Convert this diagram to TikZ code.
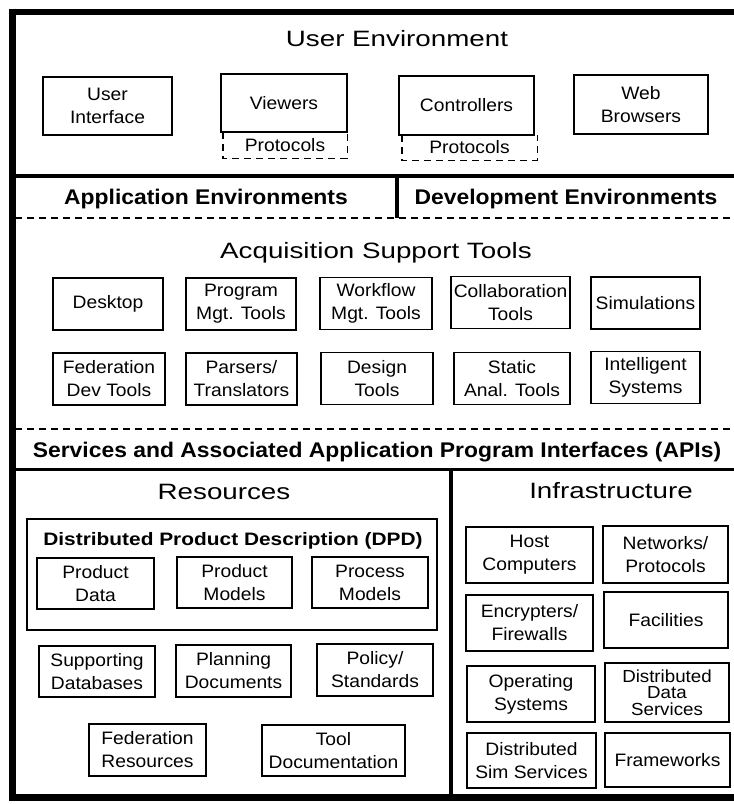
\documentclass[tikz,border=0pt]{standalone}
\usepackage{fontspec}
\setmainfont{Liberation Sans}
\newfontfamily\bxfont[FakeStretch=1.07]{Liberation Sans}
\newfontfamily\ttlfont[FakeStretch=1.25]{Liberation Sans}
\newfontfamily\bttlfont[FakeStretch=1.08]{Liberation Sans}
\newfontfamily\dpdfont[FakeStretch=1.16]{Liberation Sans}
\begin{document}
\begin{tikzpicture}[x=1pt,y=-1pt,
  box/.style={draw, line width=1.5pt, inner sep=0pt, align=center,
    font=\bxfont\fontsize{18}{23}\selectfont},
  bx/.style 2 args={box, minimum width=#1pt, minimum height=#2pt},
  ptxt/.style 2 args={inner sep=0pt, minimum width=#1pt, minimum height=#2pt,
    font=\bxfont\fontsize{18}{23}\selectfont},
  title/.style={inner sep=0pt, anchor=base, font=\ttlfont\fontsize{22.2}{27}\selectfont},
  btitle/.style={inner sep=0pt, anchor=base, font=\bttlfont\bfseries\fontsize{21.2}{25}\selectfont},
  dsh/.style={line width=1.4pt, dash pattern=on 7pt off 5pt},
  sep/.style={line width=3.5pt}
]
\useasboundingbox (0,0) rectangle (734,804);
\clip (0,0) rectangle (734,804);
\fill[white] (0,0) rectangle (734,804);

% outer frame and separators
\draw[line width=6pt] (9,11.5) -- (760,11.5);
\draw[line width=7pt] (12,8.5) -- (12,801);
\draw[line width=7pt] (9,797.5) -- (760,797.5);
\draw[sep] (12,176) -- (760,176);
\draw[line width=3.5pt] (397,176) -- (397,218);
\draw[dsh] (15,218) -- (760,218);
\draw[dsh] (15,429) -- (760,429);
\draw[line width=3pt] (12,469) -- (760,469);
\draw[line width=4pt] (451,469) -- (451,795);

% User Environment
\node[title] (ue) at (397,46) {User Environment};
\node[bx={129}{58}] (ui) at (107.5,106) {User\\Interface};
\node[bx={126}{58}] (vw) at (284,103) {Viewers};
\node[ptxt={124}{26}] (p1) at (285,145) {Protocols};
\draw[dsh] (p1.north west) -- (p1.south west) -- (p1.south east) -- (p1.north east);
\node[bx={135}{59}] (ct) at (466.5,105.5) {Controllers};
\node[ptxt={135}{25}] (p2) at (469.5,147.5) {Protocols};
\draw[dsh] (p2.north west) -- (p2.south west) -- (p2.south east) -- (p2.north east);
\node[bx={134}{59}] (wb) at (641,104.5) {Web\\Browsers};

% Application / Development Environments
\node[btitle] (ae) at (206,204) {Application Environments};
\node[btitle] (de) at (566,204) {Development Environments};

% Acquisition Support Tools
\node[title] (ast) at (376,258) {Acquisition Support Tools};
\node[bx={110}{52}] (dk) at (108,304) {Desktop};
\node[bx={110}{52}] (pm) at (241,304) {Program\\Mgt. Tools};
\node[bx={112}{52}] (wf) at (376,303.5) {Workflow\\Mgt. Tools};
\node[bx={119}{52}] (cl) at (510.5,302.5) {Collaboration\\Tools};
\node[bx={109}{52}] (sm) at (645.5,303) {Simulations};
\node[bx={112}{52}] (fd) at (109,379) {Federation\\Dev Tools};
\node[bx={111}{52}] (pt) at (241.5,379) {Parsers/\\Translators};
\node[bx={112}{52}] (dt) at (377,378.5) {Design\\Tools};
\node[bx={116}{52}] (sa) at (512,378.5) {Static\\Anal. Tools};
\node[bx={109}{52}] (is) at (645.5,377.5) {Intelligent\\Systems};

% Services
\node[btitle] (sv) at (377,457) {Services and Associated Application Program Interfaces (APIs)};

% Resources
\node[title] (rs) at (224,499) {Resources};
\draw[line width=1.6pt] (27,519) rectangle (437,630);
\node[inner sep=0pt, anchor=base, font=\dpdfont\bfseries\fontsize{18}{22}\selectfont] (dpd) at (233,545) {Distributed Product Description (DPD)};
\node[bx={117}{51}] (pd) at (95.5,583.5) {Product\\Data};
\node[bx={115}{51}] (pmo) at (234.5,582.5) {Product\\Models};
\node[bx={116}{51}] (prm) at (370,582.5) {Process\\Models};
\node[bx={116}{51}] (sd) at (97,671.5) {Supporting\\Databases};
\node[bx={115}{52}] (pld) at (233.5,671) {Planning\\Documents};
\node[bx={116}{52}] (ps) at (375,670) {Policy/\\Standards};
\node[bx={117}{52}] (fr) at (147.5,750) {Federation\\Resources};
\node[bx={143}{51}] (td) at (333.5,750.5) {Tool\\Documentation};

% Infrastructure
\node[title] (inf) at (611,498) {Infrastructure};
\node[bx={127}{56}] (hc) at (529.5,555) {Host\\Computers};
\node[bx={125}{57}] (np) at (665.5,554.5) {Networks/\\Protocols};
\node[bx={127}{56}] (ef) at (529.5,623) {Encrypters/\\Firewalls};
\node[bx={124}{56}] (fc) at (666,620) {Facilities};
\node[bx={128}{56}] (os) at (531,694) {Operating\\Systems};
\node[bx={124}{59}, font=\bxfont\fontsize{17.5}{16.5}\selectfont] (dds) at (667,692.5) {Distributed\\Data\\Services};
\node[bx={129}{55}] (dss) at (531.5,760.5) {Distributed\\Sim Services};
\node[bx={125}{54}] (fw) at (667.5,760) {Frameworks};
\end{tikzpicture}
\end{document}
